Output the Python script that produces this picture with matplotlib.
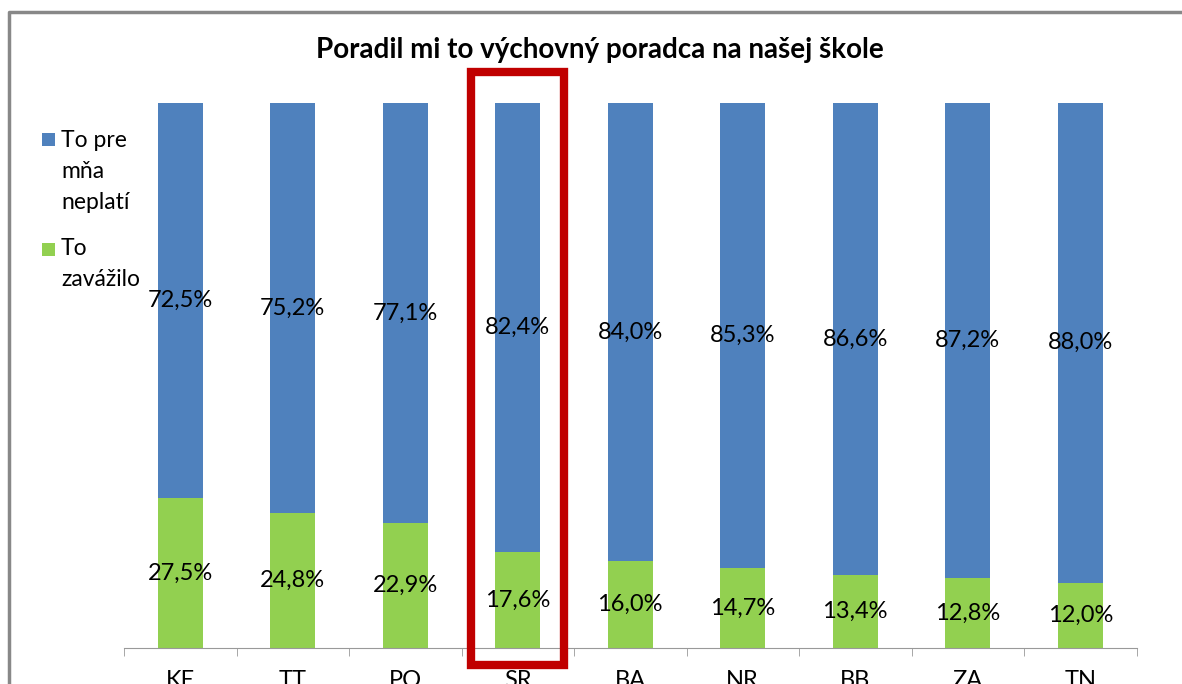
import matplotlib
matplotlib.use('Agg')
import matplotlib.pyplot as plt
from matplotlib.patches import Rectangle
from matplotlib.lines import Line2D

regions = ['KE', 'TT', 'PO', 'SR', 'BA', 'NR', 'BB', 'ZA', 'TN']
zavazilo = [27.5, 24.8, 22.9, 17.6, 16.0, 14.7, 13.4, 12.8, 12.0]
neplati = [72.5, 75.2, 77.1, 82.4, 84.0, 85.3, 86.6, 87.2, 88.0]
highlight = 'SR'

blue = '#4F81BD'
green = '#92D050'

plt.rcParams['font.family'] = ['Lato', 'DejaVu Sans']

W, H = 1182, 684
fig = plt.figure(figsize=(W / 100, H / 100), dpi=100)
ax = fig.add_axes([124 / W, (H - 648) / H, (1136.5 - 124) / W, (648 - 103) / H])

x = list(range(len(regions)))
ax.bar(x, zavazilo, width=0.4, color=green)
ax.bar(x, neplati, width=0.4, bottom=zavazilo, color=blue)

def pct(v):
    return ('%.1f%%' % v).replace('.', ',')

for i in x:
    ax.text(i, zavazilo[i] / 2, pct(zavazilo[i]), ha='center', va='center', fontsize=17, color='black')
    ax.text(i, zavazilo[i] + neplati[i] / 2, pct(neplati[i]), ha='center', va='center', fontsize=17, color='black')

ax.set_xlim(-0.5, len(regions) - 0.5)
ax.set_ylim(0, 100)
for s in ['left', 'right', 'top']:
    ax.spines[s].set_visible(False)
ax.spines['bottom'].set_color('#999999')
ax.set_yticks([])
ax.set_xticks(x)
ax.set_xticklabels(regions, fontsize=17)
ax.tick_params(axis='x', which='major', length=0, pad=16)
ax.set_xticks([i - 0.5 for i in range(len(regions) + 1)], minor=True)
ax.tick_params(axis='x', which='minor', length=6, color='#999999')

# red frame around the national average
k = regions.index(highlight)
ax.add_patch(Rectangle((k - 0.415, -3.1), 0.83, 108.8, fill=False, edgecolor='#C00000',
                       linewidth=6, clip_on=False, zorder=5))

fig.text(600 / W, 1 - 50 / H, 'Poradil mi to výchovný poradca na našej škole',
         ha='center', va='center', fontsize=20, fontweight='bold')

# legend on the left
fig.patches.append(Rectangle((42 / W, 1 - 146 / H), 13 / W, 13 / H, transform=fig.transFigure,
                             facecolor=blue, edgecolor='none'))
fig.patches.append(Rectangle((42 / W, 1 - 256 / H), 13 / W, 13 / H, transform=fig.transFigure,
                             facecolor=green, edgecolor='none'))
fig.text(61 / W, 1 - 130 / H, 'To pre\nmňa\nneplatí', ha='left', va='top', fontsize=16.5,
         linespacing=1.6)
fig.text(61 / W, 1 - 238 / H, 'To\nzavážilo', ha='left', va='top', fontsize=16.5,
         linespacing=1.6)

# outer chart border (left and top edges)
fig.lines.append(Line2D([9 / W, 9 / W, 1.5], [0.0, 1 - 12 / H, 1 - 12 / H],
                        transform=fig.transFigure, color='#888888', linewidth=2.5))

fig.savefig('out.png', dpi=100)
